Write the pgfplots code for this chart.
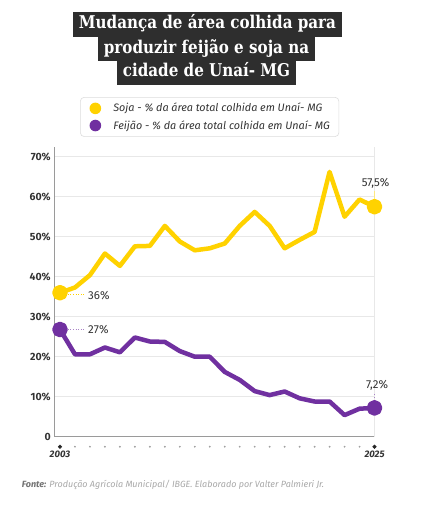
\documentclass[border=0pt]{standalone}
\usepackage{fontspec}
\usepackage{pgfplots}
\pgfplotsset{compat=1.18}
\newfontfamily\titlefont{DejaVu Serif}[FakeStretch=0.86]
\newfontfamily\sansf{Fira Sans}
\definecolor{soja}{HTML}{FFD200}
\definecolor{feijao}{HTML}{7030A0}
\definecolor{titlebg}{HTML}{2E2E2E}
\definecolor{gridgray}{HTML}{E8E8E8}
\definecolor{axisgray}{HTML}{9A9A9A}
\definecolor{labelgray}{HTML}{333333}
\definecolor{legendgray}{HTML}{DDDDDD}
\definecolor{srcgray}{HTML}{A8A8A8}
\definecolor{dotgray}{HTML}{A0A0A0}
\begin{document}
\begin{tikzpicture}
\fill[white] (0,0) rectangle (433pt,-506pt);
% title
\tikzset{tbox/.style={fill=titlebg, text=white, font=\titlefont\bfseries\fontsize{17.6}{19}\selectfont, inner xsep=6pt, inner ysep=0pt, text height=12.5pt, text depth=4pt, minimum height=24.5pt, anchor=center}}
\node[tbox] at (207.5pt,-24.5pt) {Mudança de área colhida para};
\node[tbox] at (206.5pt,-49pt) {produzir feijão e soja na};
\node[tbox] at (206.5pt,-72.5pt) {cidade de Unaí- MG};
\begin{axis}[
  at={(54.3pt,-436.7pt)}, anchor=south west,
  scale only axis, width=320.2pt, height=290pt,
  xmin=-0.38, xmax=21, ymin=0, ymax=72.5,
  axis lines*=left,
  axis line style={draw=axisgray, line width=0.8pt, -},
  ytick={0,10,20,30,40,50,60,70},
  yticklabels={0,10\%,20\%,30\%,40\%,50\%,60\%,70\%},
  ymajorgrids, grid style={draw=gridgray, line width=0.6pt},
  ytick style={draw=none}, xtick style={draw=none},
  xtick={0,21}, xticklabels={2003,2025},
  xticklabel style={font=\sansf\bfseries\itshape\fontsize{9.5}{11}\selectfont, text=labelgray, yshift=-11pt},
  yticklabel style={font=\sansf\bfseries\fontsize{10.5}{12}\selectfont, text=labelgray},
  clip=false,
  legend style={at={(0.0803,1.1714)}, anchor=north west, draw=legendgray, rounded corners=4pt, line width=0.6pt,
    font=\sansf\itshape\fontsize{10.8}{12}\selectfont, text=labelgray, inner xsep=7pt, inner ysep=4pt,
    row sep=3pt, cells={anchor=west}},
  legend image code/.code={\fill[#1, draw=none] (5.8pt,0pt) circle (5.8pt); \path (0pt,0pt) (19.6pt,0pt);},
]
\addplot[color=soja, line width=4.5pt, line join=round, mark=*, mark indices={1,22}, mark size=5.6pt,
  mark options={draw=none, fill=soja}] coordinates {
(0,36) (1,37.3) (2,40.4) (3,45.8) (4,42.7) (5,47.6) (6,47.7) (7,52.7) (8,48.8) (9,46.6) (10,47.1)
(11,48.3) (12,52.7) (13,56.2) (14,52.7) (15,47.1) (16,49.2) (17,51.2) (18,66.2) (19,55) (20,59.3) (21,57.5)};
\addlegendentry{Soja - \% da área total colhida em Unaí- MG}
\addplot[color=feijao, line width=4.5pt, line join=round, mark=*, mark indices={1,22}, mark size=5.6pt,
  mark options={draw=none, fill=feijao}] coordinates {
(0,26.8) (1,20.6) (2,20.6) (3,22.3) (4,21.1) (5,24.8) (6,23.8) (7,23.7) (8,21.4) (9,20) (10,20)
(11,16.2) (12,14.2) (13,11.4) (14,10.4) (15,11.3) (16,9.6) (17,8.8) (18,8.8) (19,5.4) (20,7) (21,7.2)};
\addlegendentry{Feijão - \% da área total colhida em Unaí- MG}
% decorative x dots
\addplot[only marks, mark=*, mark size=0.7pt, color=dotgray, forget plot] coordinates {
(1,-2.5) (2,-2.5) (3,-2.5) (4,-2.5) (5,-2.5) (6,-2.5) (7,-2.5) (8,-2.5) (9,-2.5) (10,-2.5)
(11,-2.5) (12,-2.5) (13,-2.5) (14,-2.5) (15,-2.5) (16,-2.5) (17,-2.5) (18,-2.5) (19,-2.5) (20,-2.5)};
\addplot[only marks, mark=*, mark size=1.8pt, color=black!85, forget plot] coordinates {(0,-2.5) (21,-2.5)};
% right vertical guide
\draw[gridgray, line width=0.6pt] (axis cs:21,0) -- (axis cs:21,72.5);
% annotations
\draw[soja, dotted, line width=0.6pt] (axis cs:0,35.6) -- (axis cs:1.65,35.6);
\node[font=\sansf\fontsize{11.5}{13}\selectfont, text=labelgray, anchor=west] at (axis cs:1.65,35.2) {36\%};
\draw[feijao!60, dotted, line width=0.6pt] (axis cs:0,26.8) -- (axis cs:1.65,26.8);
\node[font=\sansf\fontsize{11.5}{13}\selectfont, text=labelgray, anchor=west] at (axis cs:1.65,26.7) {27\%};
\draw[soja!50, line width=0.6pt] (axis cs:21,57.5) -- (axis cs:21,61.5);
\node[font=\sansf\fontsize{11.5}{13}\selectfont, text=labelgray] at (axis cs:21.07,63.3) {57,5\%};
\draw[feijao!60, dotted, line width=0.6pt] (axis cs:21,7.2) -- (axis cs:21,11);
\node[font=\sansf\fontsize{11.5}{13}\selectfont, text=labelgray] at (axis cs:21.17,12.9) {7,2\%};
\end{axis}
% source
\node[anchor=west, font=\sansf\itshape\fontsize{9}{10}\selectfont, text=srcgray, inner sep=0pt] at (21.7pt,-485pt)
  {{\bfseries\color{black!55}Fonte:} Produção Agrícola Municipal/ IBGE. Elaborado por Valter Palmieri Jr.};
\end{tikzpicture}
\end{document}
